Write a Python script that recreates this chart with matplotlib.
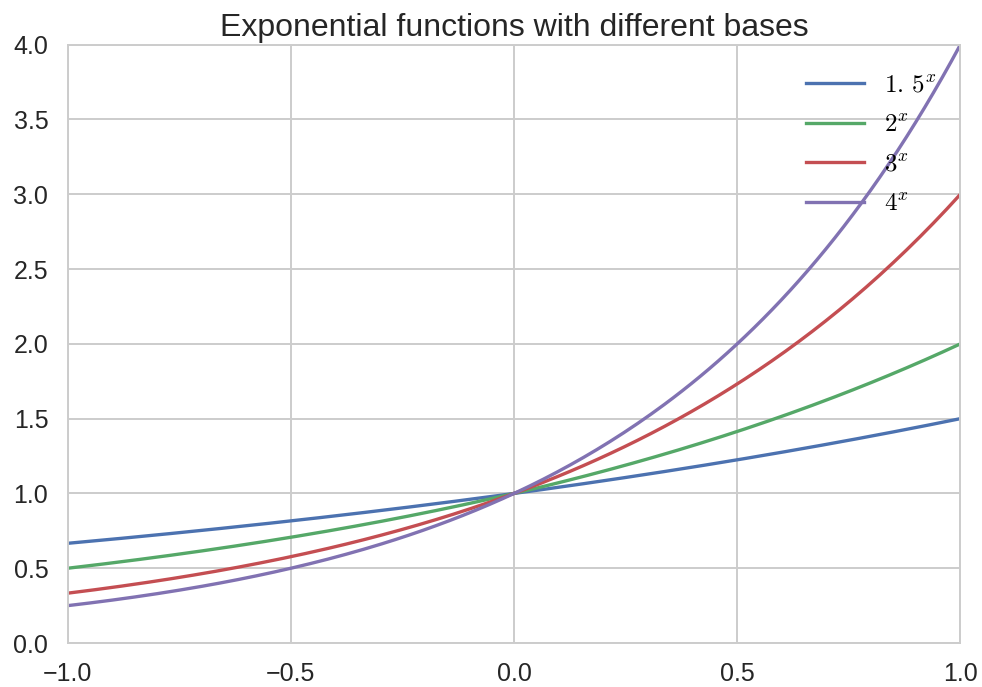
import numpy as np
import matplotlib
matplotlib.use("Agg")
import matplotlib.pyplot as plt

# bases
bases = [1.5, 2, 3, 4]
labels = [r"$1.\,5^x$", r"$2^x$", r"$3^x$", r"$4^x$"]
colors = ["#4C72B0", "#55A868", "#C44E52", "#8172B2"]

plt.rcParams["font.family"] = ["Liberation Sans", "DejaVu Sans"]
plt.rcParams["mathtext.fontset"] = "cm"

fig = plt.figure(figsize=(9.82, 6.87), dpi=100)
ax = fig.add_axes([0.069, 0.064, 0.909, 0.871])

x = np.linspace(-1, 1, 200)
for b, lab, c in zip(bases, labels, colors):
    ax.plot(x, b ** x, color=c, lw=2.4, label=lab)

ax.set_xlim(-1, 1)
ax.set_ylim(0, 4)
ax.set_xticks([-1.0, -0.5, 0.0, 0.5, 1.0])
ax.set_yticks(np.arange(0, 4.01, 0.5))
ax.tick_params(labelsize=18, length=0, colors="#262626")
ax.tick_params(axis="x", pad=14)
ax.tick_params(axis="y", pad=14)
ax.grid(True, color="#cccccc", lw=1.4)
ax.set_axisbelow(True)
for s in ax.spines.values():
    s.set_color("#cccccc")
    s.set_linewidth(1.4)
ax.set_title("Exponential functions with different bases", fontsize=23, color="#262626", pad=6)
ax.legend(frameon=False, fontsize=18, loc="upper right", handlelength=2.3,
          labelspacing=0.62, bbox_to_anchor=(0.998, 0.99))

fig.savefig("out.png", dpi=100)
